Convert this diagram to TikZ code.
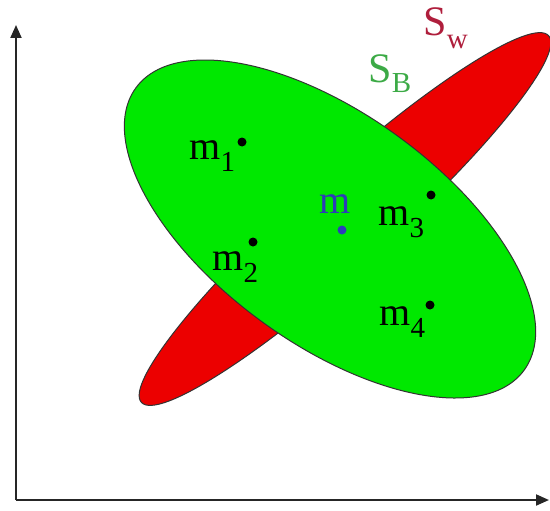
\documentclass[tikz,border=0pt]{standalone}
\usepackage{fontspec}
\setmainfont{Liberation Serif}
\usetikzlibrary{arrows.meta}

\definecolor{blobgreen}{RGB}{0,232,0}
\definecolor{blobred}{RGB}{236,0,0}
\definecolor{sbgreen}{RGB}{60,170,70}
\definecolor{swred}{RGB}{175,30,60}
\definecolor{meanblue}{RGB}{45,60,185}

% lowered index, as in the picture
\newcommand{\lowidx}[2][0.3em]{\raisebox{-#1}{\fontsize{14.5}{15}\selectfont #2}}

\begin{document}
\begin{tikzpicture}[
    x=0.5pt, y=0.5pt,
    every node/.style={font=\fontsize{20}{23}\selectfont, inner sep=0pt},
    axis/.style={line width=1pt, black!85, -{Triangle[length=6.5pt, width=5.5pt]}},
    blob/.style={draw=black!80, line width=0.5pt, fill=#1},
    mean/.style={circle, fill=#1, minimum size=4.5pt, inner sep=0pt},
    mean/.default=black,
    lbl/.style={anchor=base west},
]
\useasboundingbox (0,0) rectangle (550,510);

% axes
\coordinate (origin) at (16,10);
\coordinate (xend) at (549,10);
\coordinate (yend) at (16,485);
\draw[axis] (origin) -- (xend);
\draw[axis] (origin) -- (yend);

% scatter matrices
\coordinate (wcentre) at (345,291);
\coordinate (bcentre) at (330,281);
\path[blob=blobred, rotate around={42:(wcentre)}] (wcentre) ellipse [x radius=274, y radius=45];
\path[blob=blobgreen, rotate around={-36:(bcentre)}] (bcentre) ellipse [x radius=240, y radius=115];

\node[lbl, text=sbgreen, font=\fontsize{21}{24}\selectfont] (sb) at (368,428) {S\lowidx[0.25em]{B}};
\node[lbl, text=swred, font=\fontsize{21}{24}\selectfont] (sw) at (423,474) {S\lowidx[0.3em]{w}};

% class means
\node[mean] (m1) at (242,368) {};
\node[mean] (m2) at (253,268) {};
\node[mean] (m3) at (431,315) {};
\node[mean] (m4) at (430,205) {};
\node[mean=meanblue] (m) at (342,280) {};

\node[lbl] (m1lbl) at (189,351) {m\lowidx{1}};
\node[lbl] (m2lbl) at (212,240) {m\lowidx{2}};
\node[lbl] (m3lbl) at (378,285) {m\lowidx{3}};
\node[lbl] (m4lbl) at (379,185) {m\lowidx{4}};
\node[lbl, text=meanblue] (mlbl) at (319,297) {m};

\end{tikzpicture}
\end{document}
